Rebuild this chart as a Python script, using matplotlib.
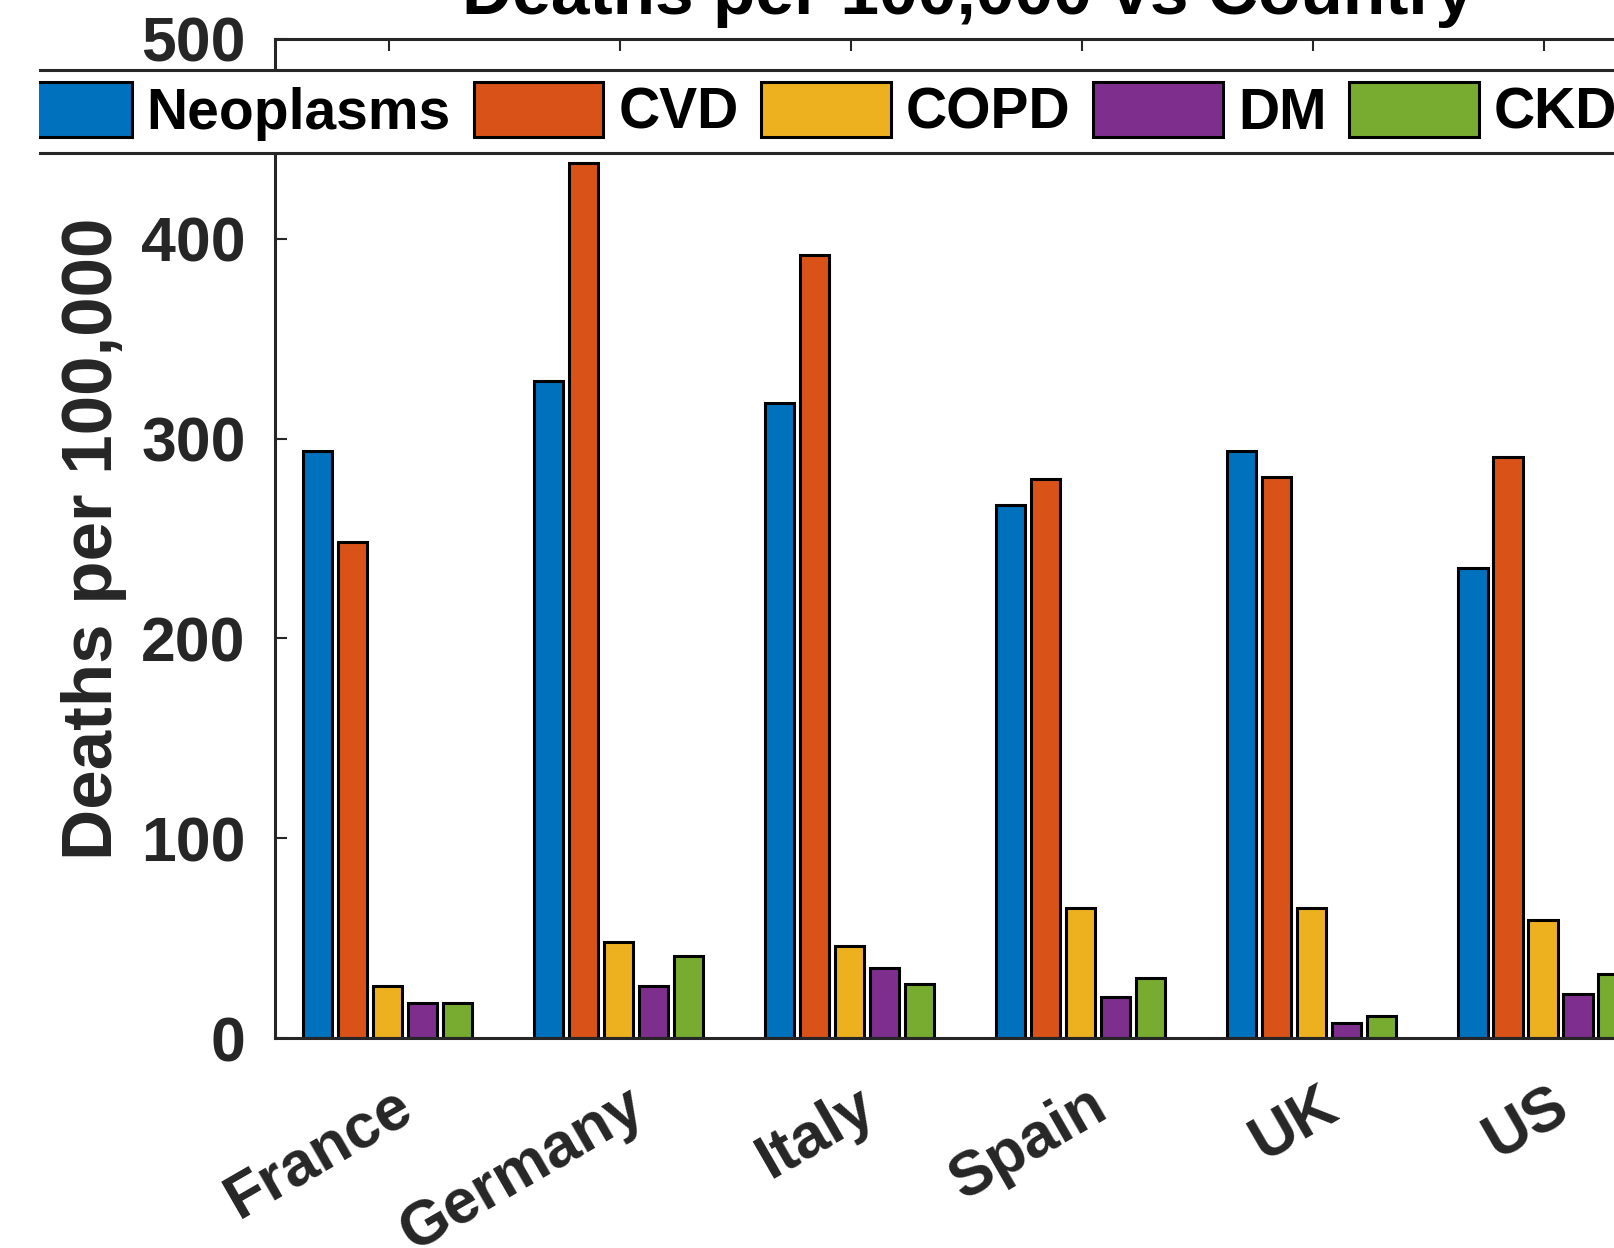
import matplotlib
matplotlib.use('Agg')
import matplotlib.pyplot as plt
import matplotlib.transforms as mtransforms
from matplotlib.patches import Rectangle
import numpy as np

# datos
paises = ['France', 'Germany', 'Italy', 'Spain', 'UK', 'US']
series = ['Neoplasms', 'CVD', 'COPD', 'DM', 'CKD']
neoplasms = [294, 329, 318, 267, 294, 235]
cvd = [248, 438, 392, 280, 281, 291]
copd = [26, 48, 46, 65, 65, 59]
dm = [17.5, 26, 35, 20.5, 7.7, 22]
ckd = [17.5, 41, 27, 30, 10.8, 32]
colores = ['#0072BD', '#D95319', '#EDB120', '#7E2F8E', '#77AC30']

plt.rcParams['font.family'] = ['Liberation Sans', 'DejaVu Sans']
plt.rcParams['font.weight'] = 'bold'

W, H = 1615, 1248
fig = plt.figure(figsize=(W / 100, H / 100), dpi=100)
ax = fig.add_axes([275 / W, 210 / H, 1387 / W, 999 / H])

x = np.arange(1, len(paises) + 1)
paso = 0.1514
ancho = 0.126
valores = [neoplasms, cvd, copd, dm, ckd]
barras = []
for i, (nombre, vals) in enumerate(zip(series, valores)):
    b = ax.bar(x + (i - 2) * paso - 0.006, vals, width=ancho, color=colores[i],
               edgecolor='black', linewidth=2.2, label=nombre, zorder=2)
    barras.append(b)

ax.set_xlim(0.509, 6.509)
ax.set_ylim(0, 500)
ax.set_yticks(np.arange(0, 501, 100))
ax.set_xticks(x)
ax.set_xticklabels([])

# etiquetas de paises giradas, ancladas arriba a la derecha
desplaza = mtransforms.ScaledTranslation(5 / 100, -38 / 100, fig.dpi_scale_trans)
for xi, nombre in zip(x, paises):
    ax.text(xi, 0, nombre, transform=ax.get_xaxis_transform() + desplaza,
            rotation=30, ha='right', va='top', rotation_mode='anchor',
            fontsize=45, fontweight='bold', color='#262626')

for s in ax.spines.values():
    s.set_linewidth(2.2)
    s.set_color('#262626')
ax.tick_params(axis='both', direction='in', length=8.6, width=1.5,
               colors='#262626', top=True, right=True)
ax.tick_params(axis='y', labelsize=45, pad=21)
for lab in ax.get_yticklabels():
    lab.set_fontweight('bold')

ax.set_ylabel('Deaths per 100,000', fontsize=51, fontweight='bold',
              color='#262626')
ax.yaxis.set_label_coords(-0.1068, 0.5)

fig.text(968 / W, 1 - 14 / H, 'Deaths per 100,000 vs Country', fontsize=50,
         fontweight='bold', ha='center', va='baseline', color='black')

# leyenda horizontal; el borde izquierdo queda recortado como en la imagen
leg = fig.legend(handles=barras, labels=series, ncol=5, loc='upper left',
                 bbox_to_anchor=(-10 / W, 1 - 70 / H), bbox_transform=fig.transFigure,
                 borderaxespad=0, prop={'size': 41, 'weight': 'bold'},
                 handlelength=2.28, handleheight=1.1, handletextpad=0.26,
                 columnspacing=0.4, borderpad=0.21, fancybox=False,
                 framealpha=1, edgecolor='#262626')
leg.get_frame().set_linewidth(2.2)
fig.add_artist(Rectangle((0, 1 - 170 / H), 39 / W, 105 / H,
                         transform=fig.transFigure, facecolor='white',
                         edgecolor='none', zorder=10))

fig.savefig('out.png', dpi=100)
